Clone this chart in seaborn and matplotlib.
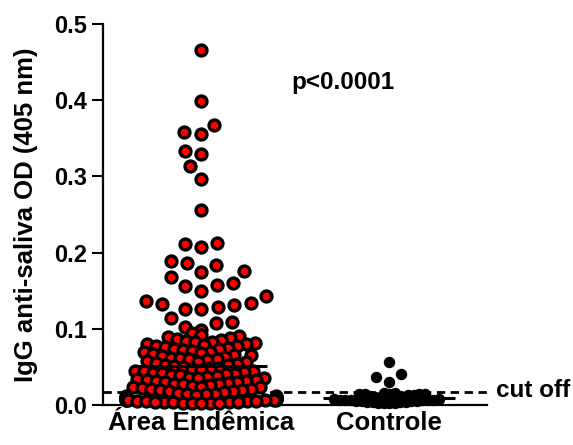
import numpy as np
import pandas as pd
import matplotlib
matplotlib.use("Agg")
import matplotlib.pyplot as plt
import seaborn as sns

# Dados (DO 405 nm)
grupos = ["Área Endêmica", "Controle"]
endemica = [
    0.466, 0.399, 0.368, 0.358, 0.355, 0.333, 0.330, 0.313, 0.297, 0.256,
    0.213, 0.211, 0.207, 0.189, 0.186, 0.184, 0.176, 0.174, 0.168, 0.160,
    0.157, 0.156, 0.150, 0.143, 0.136, 0.134, 0.132, 0.131, 0.129, 0.126,
    0.126, 0.114, 0.109, 0.108, 0.102, 0.098,
    0.094, 0.092, 0.090, 0.089, 0.088, 0.087, 0.085, 0.084, 0.083, 0.082,
    0.081, 0.080, 0.080, 0.079, 0.078, 0.077, 0.076, 0.075, 0.074, 0.073,
    0.072, 0.071, 0.070, 0.069, 0.068, 0.067, 0.066, 0.065, 0.064, 0.063,
    0.062, 0.061, 0.060, 0.060, 0.059, 0.058, 0.057, 0.056, 0.055, 0.054,
    0.053, 0.052, 0.051, 0.050,
    0.049, 0.048, 0.047, 0.046, 0.045, 0.045, 0.044, 0.043, 0.042, 0.042,
    0.041, 0.040, 0.039, 0.039, 0.038, 0.037, 0.036, 0.036, 0.035, 0.034,
    0.033, 0.033, 0.032, 0.031, 0.030, 0.030, 0.029, 0.028, 0.027, 0.027,
    0.026, 0.025, 0.024, 0.024, 0.023, 0.022, 0.021, 0.021, 0.020, 0.019,
    0.018, 0.018, 0.017, 0.016, 0.015, 0.015, 0.014, 0.013, 0.012, 0.012,
    0.011, 0.010, 0.010, 0.009, 0.009, 0.008, 0.008, 0.007, 0.007, 0.007,
    0.006, 0.006, 0.006, 0.005, 0.005, 0.005, 0.005, 0.004, 0.004, 0.004,
    0.004, 0.004, 0.003, 0.003, 0.003, 0.003, 0.003,
]
controle = [
    0.056, 0.040, 0.037, 0.030,
    0.016, 0.016, 0.015, 0.015, 0.015, 0.014, 0.014, 0.013, 0.013,
    0.012, 0.011, 0.011, 0.010, 0.010, 0.009, 0.009, 0.008, 0.008,
    0.007, 0.007, 0.007, 0.006, 0.006, 0.006, 0.005, 0.005, 0.005,
    0.005, 0.004, 0.004, 0.004, 0.004, 0.003, 0.003, 0.003, 0.003,
]
cut_off = 0.0175
p_valor = "p<0.0001"
yticks = [0.0, 0.1, 0.2, 0.3, 0.4, 0.5]

df = pd.DataFrame({
    "grupo": [grupos[0]] * len(endemica) + [grupos[1]] * len(controle),
    "od": endemica + controle,
})
# dense part of each column (below this value the dots overlap)
limite = {grupos[0]: 0.095, grupos[1]: 0.025}
df["denso"] = df["od"] < df["grupo"].map(limite)

sns.set_style("ticks", {"axes.edgecolor": "black", "text.color": "black",
                        "axes.labelcolor": "black", "xtick.color": "black",
                        "ytick.color": "black"})
plt.rcParams["font.family"] = ["Liberation Sans", "DejaVu Sans"]
plt.rcParams["font.weight"] = "bold"
plt.rcParams["axes.labelweight"] = "bold"

fig = plt.figure(figsize=(5.73, 4.45), dpi=100)
ax = fig.add_axes([0.18, 0.09, 0.67, 0.856])

cores = {grupos[0]: "red", grupos[1]: "black"}
# swarm spacing: sparse values keep full spacing, dense part packed tighter
espaco = {(grupos[0], False): 11.5, (grupos[0], True): 6.3,
          (grupos[1], False): 10.0, (grupos[1], True): 3.8}
marcador = {grupos[0]: (62, 2.4), grupos[1]: (52, 1.0)}

camadas = []
for (grupo, denso), sub in df.groupby(["grupo", "denso"]):
    n0 = len(ax.collections)
    sns.swarmplot(data=sub, x="grupo", y="od", order=grupos,
                  color=cores[grupo], size=espaco[(grupo, denso)],
                  linewidth=0, edgecolor="black", ax=ax)
    camadas += [(c, grupo) for c in ax.collections[n0:]]
ax.set_xlim(-0.52, 1.52)
ax.set_ylim(0, 0.5)

# freeze swarm positions, then draw the real marker size
fig.canvas.draw()
for coll, grupo in camadas:
    coll.__dict__.pop("draw", None)
    if len(coll.get_offsets()) == 0:
        coll.remove()
        continue
    s, lw = marcador[grupo]
    coll.set_sizes([s])
    coll.set_linewidth(lw)
    coll.set_edgecolor("black")
    coll.set_clip_on(False)

# medianas
for i, vals in enumerate([endemica, controle]):
    ax.hlines(np.median(vals), i - 0.35, i + 0.35, color="black", lw=2.2, zorder=5)

ax.axhline(cut_off, color="black", lw=2, ls=(0, (3, 2)), zorder=1)
ax.text(1.57, cut_off + 0.002, "cut off", fontsize=17.5, ha="left", va="center")
ax.text(0.48, 0.423, p_valor, fontsize=17.5, ha="left", va="center")

ax.set_yticks(yticks)
ax.set_yticklabels([f"{t:.1f}" for t in yticks])
ax.set_ylabel("IgG anti-saliva OD (405 nm)", fontsize=18.5)
ax.yaxis.set_label_coords(-0.17, 0.5)
ax.set_xlabel("")
ax.tick_params(axis="y", length=8, width=1.5, labelsize=17)
ax.tick_params(axis="x", length=0, labelsize=18.5, pad=4)
for side in ["top", "right"]:
    ax.spines[side].set_visible(False)
for side in ["left", "bottom"]:
    ax.spines[side].set_linewidth(1.6)

fig.savefig("out.png", dpi=100)
